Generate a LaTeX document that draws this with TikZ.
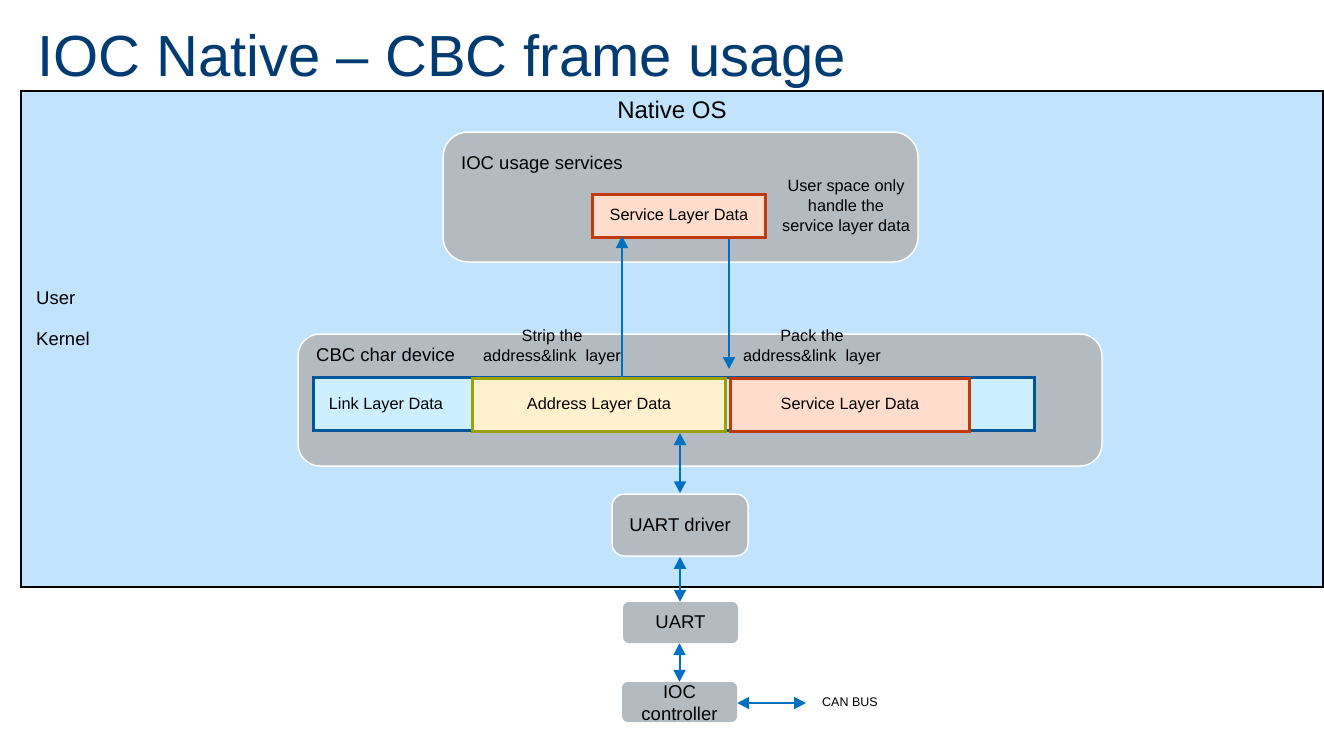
\documentclass[tikz,border=0pt]{standalone}
\usepackage{fontspec}
\setmainfont{Liberation Sans}
\usetikzlibrary{arrows.meta}
\definecolor{titleblue}{RGB}{0,59,113}
\definecolor{osblue}{RGB}{193,227,253}
\definecolor{boxgray}{RGB}{179,187,193}
\definecolor{framecyan}{RGB}{204,240,255}
\definecolor{framedark}{RGB}{0,86,155}
\definecolor{olivec}{RGB}{155,161,0}
\definecolor{peach}{RGB}{255,220,203}
\definecolor{redor}{RGB}{192,58,10}
\definecolor{paley}{RGB}{255,240,206}
\definecolor{arrblue}{RGB}{0,112,192}
\tikzset{
  fs/.style={font=\fontsize{18.5}{22}\selectfont},
  fm/.style={font=\fontsize{16.3}{20}\selectfont},
  grayround/.style={draw=white,line width=1.5pt,fill=boxgray,rounded corners=#1},
  flatgray/.style={fill=boxgray,rounded corners=6pt},
  datab/.style={line width=3pt,fm,inner sep=0pt},
  txt/.style={inner sep=0pt},
  tipa/.tip={Triangle[width=12pt,length=12pt]},
  arr/.style={draw=arrblue,line width=2pt,-tipa},
  darr/.style={draw=arrblue,line width=2pt,tipa-tipa},
}
\begin{document}
\begin{tikzpicture}[x=1pt,y=-1pt]
\useasboundingbox (0,0) rectangle (1324,737);
\fill[white] (0,0) rectangle (1324,737);
% title
\node[txt,anchor=base west,text=titleblue,font=\fontsize{58}{64}\selectfont] (title) at (37,76) {IOC Native – CBC frame usage};
% native OS
\node[draw=black,line width=2pt,fill=osblue,minimum width=1302pt,minimum height=496pt,inner sep=0pt] (os) at (672,339) {};
\node[txt,font=\fontsize{24}{27}\selectfont] (oslabel) at (672,110) {Native OS};
\node[txt,fs,anchor=base west] (user) at (36,304.5) {User};
\node[txt,fs,anchor=base west] (kernel) at (36,345.5) {Kernel};
% IOC usage services
\node[grayround=25pt,minimum width=475pt,minimum height=130pt] (ious) at (680.5,197) {};
\node[txt,fs,anchor=base west] (iouslabel) at (461,169.5) {IOC usage services};
\node[datab,draw=redor,fill=peach,minimum width=173pt,minimum height=43pt] (sld1) at (679,216) {Service Layer Data};
\node[txt,fm,align=center] (note) at (846,207) {User space only\\handle the\\service layer data};
% CBC char device
\node[grayround=22pt,minimum width=804pt,minimum height=132pt] (cbc) at (700,400) {};
\node[txt,fs,anchor=base west] (cbclabel) at (316,361.5) {CBC char device};
\node[datab,draw=framedark,fill=framecyan,minimum width=721pt,minimum height=53pt] (frame) at (674,403.5) {};
\node[txt,fm] (linkl) at (386,405) {Link Layer Data};
\node[datab,draw=olivec,fill=paley,minimum width=253pt,minimum height=53pt] (addr) at (599,405) {Address Layer Data};
\node[datab,draw=redor,fill=peach,minimum width=239pt,minimum height=53pt] (serv) at (850,405) {Service Layer Data};
\node[txt,fm,align=center] (strip) at (552,347) {Strip the\\address\&link\ \ layer};
\node[txt,fm,align=center] (pack) at (812,347) {Pack the\\address\&link\ \ layer};
% lower chain
\node[grayround=12pt,fs,minimum width=136pt,minimum height=62pt] (uartdrv) at (680,525) {UART driver};
\node[flatgray,fs,minimum width=115pt,minimum height=41pt] (uart) at (680.5,622.5) {UART};
\node[flatgray,minimum width=115pt,minimum height=40pt] (iocc) at (679.5,702) {};
\node[txt,align=center,font=\fontsize{18.5}{22.5}\selectfont] (ioccl) at (679.5,703) {IOC\\controller};
\node[txt,anchor=west,font=\fontsize{12.5}{15}\selectfont] (can) at (822,702) {CAN BUS};
% connectors
\coordinate (upx) at (622,0);
\coordinate (dnx) at (729,0);
\coordinate (canend) at (806,703);
\draw[arr,shorten >=-3pt] (addr.north -| upx) -- (sld1.south -| upx);
\draw[arr,shorten >=8pt] (sld1.south -| dnx) -- (addr.north -| dnx);
\draw[darr] (addr.south -| uartdrv.north) -- (uartdrv.north);
\draw[darr] (uartdrv.south) -- (uart.north -| uartdrv.south);
\draw[darr] (uart.south -| iocc.north) -- (iocc.north);
\draw[darr] (iocc.east |- canend) -- (canend);
\end{tikzpicture}
\end{document}
